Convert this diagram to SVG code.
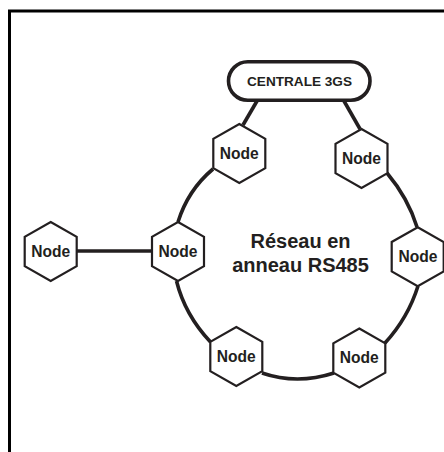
<svg xmlns="http://www.w3.org/2000/svg" width="444" height="452" viewBox="0 0 444 452">
<defs>
<polygon id="hex" points="0,-29.500 26,-14.700 26,14.700 0,29.500 -26,14.700 -26,-14.700"/>
</defs>
<style>
.frame{fill:none;stroke:#000;stroke-width:3}
.wire{fill:none;stroke:#231f20;stroke-width:3.600}
.hx{fill:#fff;stroke:#231f20;stroke-width:2.200}
text{font-family:"Liberation Sans",Arial,sans-serif;font-weight:700;fill:#231f20;text-anchor:middle}
.n{font-size:15.600px}
</style>
<rect width="444" height="452" fill="#fff"/>
<path class="frame" d="M9.500 452V11H444"/>
<g id="connectors">
<path class="wire" d="M257 101L243 125"/>
<path class="wire" d="M344 101L360 129"/>
<path class="wire" d="M213 169Q188 190 178 222"/>
<path class="wire" d="M387 173Q408 198 417 227"/>
<path class="wire" d="M418 286Q408 318 385 343"/>
<path class="wire" d="M334 373Q297 385 262 373"/>
<path class="wire" d="M210.500 342Q185 315 176.500 281"/>
<path class="wire" d="M76 251H152"/>
</g>
<g id="centrale">
<rect x="228.500" y="61.700" width="141.500" height="38.600" rx="19.300" fill="#fff" stroke="#231f20" stroke-width="3.600"/>
<text x="299.500" y="86" font-size="13.600">CENTRALE 3GS</text>
</g>
<g id="node1"><use href="#hex" class="hx" x="239.300" y="153.500"/><text class="n" x="239.300" y="158.700">Node</text></g>
<g id="node2"><use href="#hex" class="hx" x="361.500" y="158.500"/><text class="n" x="361.500" y="163.700">Node</text></g>
<g id="node3"><use href="#hex" class="hx" x="417.700" y="256.700"/><text class="n" x="418" y="262">Node</text></g>
<g id="node4"><use href="#hex" class="hx" x="359.300" y="358"/><text class="n" x="359.300" y="363.300">Node</text></g>
<g id="node5"><use href="#hex" class="hx" x="236.300" y="356.500"/><text class="n" x="236.300" y="362">Node</text></g>
<g id="node6"><use href="#hex" class="hx" x="178" y="251.500"/><text class="n" x="178" y="257.300">Node</text></g>
<g id="node7"><use href="#hex" class="hx" x="50.700" y="251.500"/><text class="n" x="50.700" y="257">Node</text></g>
<g id="label"><text x="300.500" y="248" font-size="20">Réseau en</text><text x="300.500" y="271.500" font-size="20">anneau RS485</text></g>
</svg>
